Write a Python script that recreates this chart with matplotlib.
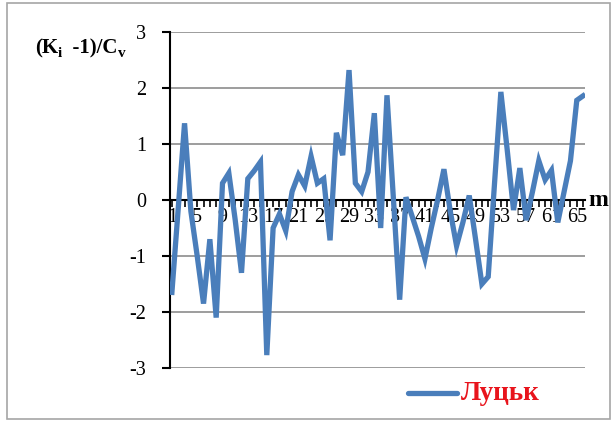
import matplotlib.pyplot as plt
import numpy as np
from matplotlib.patches import Rectangle

plt.rcParams["font.family"] = ["Liberation Serif", "DejaVu Serif"]
plt.rcParams["axes.unicode_minus"] = False

# normalised annual runoff anomalies, (K_i - 1)/C_v, station Lutsk
m = np.arange(1, 67)
k_norm = [
    -1.65, -0.15, 1.37, -0.20, -1.00, -1.85, -0.70, -2.10, 0.30, 0.48,
    -0.35, -1.30, 0.38, 0.52, 0.68, -2.77, -0.50, -0.25, -0.55, 0.15,
    0.45, 0.25, 0.78, 0.30, 0.38, -0.72, 1.20, 0.80, 2.32, 0.30,
    0.15, 0.50, 1.55, -0.50, 1.87, 0.05, -1.78, 0.05, -0.30, -0.65,
    -1.05, -0.50, 0.00, 0.55, -0.20, -0.82, -0.40, 0.08, -0.70, -1.50,
    -1.37, 0.30, 1.93, 0.90, -0.18, 0.57, -0.36, 0.15, 0.70, 0.36,
    0.53, -0.40, 0.15, 0.70, 1.78, 1.86,
]
x_labels = np.arange(1, 66, 4)
y_ticks = [-3, -2, -1, 0, 1, 2, 3]

line_color = "#4a7ebb"

fig = plt.figure(figsize=(6.13, 4.21), dpi=100)
fig.patches.append(Rectangle((7 / 613, 0.004), 603 / 613, 0.99, transform=fig.transFigure,
                             fill=False, edgecolor="#a6a6a6", linewidth=1.2))

ax = fig.add_axes([170 / 613, 1 - 368 / 421, 415 / 613, 336 / 421])
ax.plot(m, k_norm, color=line_color, linewidth=3.8, solid_joinstyle="miter", zorder=3)

ax.set_xlim(0.7, 66.3)
ax.set_ylim(-3, 3)
ax.set_yticks(y_ticks)
ax.yaxis.grid(True, color="#8c8c8c", linewidth=1.2)
ax.set_axisbelow(True)

for side in ["top", "right"]:
    ax.spines[side].set_visible(False)
ax.spines["bottom"].set_position(("data", 0))
ax.spines["bottom"].set_zorder(2)
ax.spines["left"].set_linewidth(1.5)
ax.spines["bottom"].set_linewidth(1.5)

ax.set_xticks(x_labels)
ax.set_xticks(m, minor=True)
ax.tick_params(axis="x", which="both", direction="out", length=5, width=1.2, labelsize=14.5, pad=1)
ax.tick_params(axis="y", direction="out", length=6, width=1.5, labelsize=14.5, pad=11)

ax.text(1.008, 0.5, "m", transform=ax.transAxes, fontsize=17, fontweight="bold", ha="left", va="center")

# axis title (K_i -1)/C_v built from pieces so the subscripts sit lower
renderer = fig.canvas.get_renderer()
x_px, base_px = 35, 421 - 53
for piece, size, dy in [("(K", 15, 0), ("i", 11, -4), ("  -1)/C", 15, 0), ("v", 11, -4)]:
    t = fig.text(x_px / 613, (base_px + dy) / 421, piece, fontsize=size, fontweight="bold",
                 ha="left", va="baseline")
    x_px = t.get_window_extent(renderer).x1

# legend entry
fig.add_artist(plt.Line2D([408 / 613, 457 / 613], [1 - 393 / 421] * 2, transform=fig.transFigure,
                          color=line_color, linewidth=3.8, solid_capstyle="round"))
fig.text(461 / 613, 1 - 394 / 421, "Луцьк", color="#e8141c", fontsize=19.5, fontweight="bold",
         ha="left", va="center")

fig.savefig("out.png", dpi=100)
plt.close()
